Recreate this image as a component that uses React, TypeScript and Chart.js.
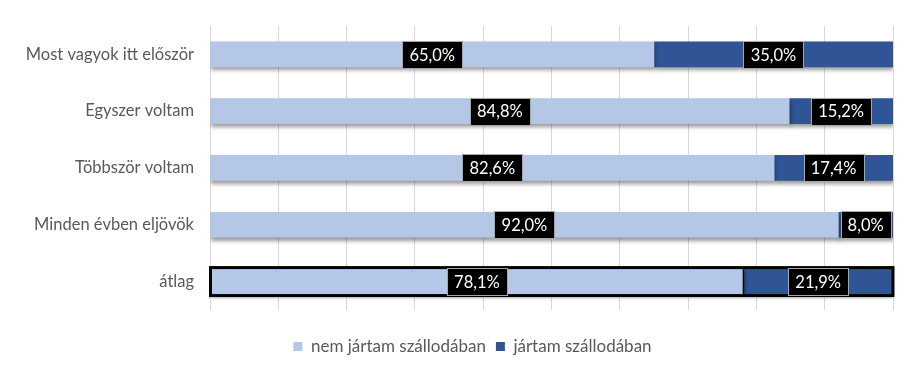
import React, { useEffect, useRef } from "react";
import { Chart, registerables } from "chart.js";

Chart.register(...registerables);

const categories = ["Most vagyok itt először", "Egyszer voltam", "Többször voltam", "Minden évben eljövök", "átlag"];
const seriesNames = ["nem jártam szállodában", "jártam szállodában"];
const notStayed = [65.0, 84.8, 82.6, 92.0, 78.1];
const stayed = [35.0, 15.2, 17.4, 8.0, 21.9];
const xTicks = [0, 10, 20, 30, 40, 50, 60, 70, 80, 90, 100];

const LIGHT = "#B4C7E7";
const DARK = "#2F5597";
const FONT = "Lato, 'Noto Sans', sans-serif";

const shadowPlugin = {
  id: "shadowPlugin",
  beforeDatasetsDraw(chart: any) {
    const ctx = chart.ctx;
    ctx.save();
    ctx.shadowColor = "rgba(0,0,0,0.4)";
    ctx.shadowBlur = 4;
    ctx.shadowOffsetX = 1;
    ctx.shadowOffsetY = 3;
  },
  afterDatasetsDraw(chart: any) {
    chart.ctx.restore();
  },
};

const legendShift = {
  id: "legendShift",
  afterLayout(chart: any) {
    const lg = chart.legend;
    if (lg) {
      lg.left += 26;
      lg.right += 26;
      if (lg.legendHitBoxes) lg.legendHitBoxes.forEach((h: any) => (h.left += 26));
    }
  },
};

const overlayPlugin = {
  id: "overlayPlugin",
  afterDatasetsDraw(chart: any) {
    const ctx = chart.ctx;
    const m0 = chart.getDatasetMeta(0);
    const m1 = chart.getDatasetMeta(1);
    const last = categories.length - 1;
    const a: any = m0.data[last];
    const b: any = m1.data[last];
    if (a && b) {
      const h = a.height;
      const left = a.base;
      const right = b.x;
      ctx.save();
      ctx.strokeStyle = "#000";
      ctx.lineWidth = 3;
      ctx.strokeRect(left, a.y - h / 2 - 1.5, right - left, h + 3);
      ctx.beginPath();
      ctx.lineWidth = 1.5;
      ctx.moveTo(a.x, a.y - h / 2);
      ctx.lineTo(a.x, a.y + h / 2);
      ctx.stroke();
      ctx.restore();
    }
    ctx.save();
    ctx.font = `16.5px ${FONT}`;
    ctx.textAlign = "center";
    ctx.textBaseline = "middle";
    [m0, m1].forEach((meta: any, di: number) => {
      const values = di === 0 ? notStayed : stayed;
      meta.data.forEach((el: any, i: number) => {
        const txt = values[i].toFixed(1).replace(".", ",") + "%";
        const cx = (el.x + el.base) / 2;
        const cy = el.y;
        const w = Math.round(ctx.measureText(txt).width + 14);
        const hh = 27;
        const x0 = Math.round(cx - w / 2);
        const y0 = Math.round(cy - hh / 2);
        ctx.fillStyle = "#000";
        ctx.fillRect(x0, y0, w, hh);
        ctx.strokeStyle = "#A6A6A6";
        ctx.lineWidth = 1;
        ctx.strokeRect(x0 + 0.5, y0 + 0.5, w, hh);
        ctx.fillStyle = "#fff";
        ctx.fillText(txt, cx, cy + 1);
      });
    });
    ctx.restore();
  },
};

export default function App() {
  const ref = useRef<HTMLCanvasElement | null>(null);
  useEffect(() => {
    document.body.style.margin = "0";
    const chart = new Chart(ref.current as HTMLCanvasElement, {
      type: "bar",
      data: {
        labels: categories,
        datasets: [
          { label: seriesNames[0], data: notStayed, backgroundColor: LIGHT, borderWidth: 0, barThickness: 25 } as any,
          { label: seriesNames[1], data: stayed, backgroundColor: DARK, borderWidth: 0, barThickness: 25 } as any,
        ],
      },
      options: {
        indexAxis: "y",
        animation: false,
        responsive: false,
        layout: { padding: { left: 0, right: 27, top: 6, bottom: 3 } },
        scales: {
          x: {
            stacked: true,
            min: 0,
            max: 100,
            afterBuildTicks(scale: any) {
              scale.ticks = xTicks.map((v) => ({ value: v }));
            },
            ticks: { display: false },
            grid: { color: "#D9D9D9", drawTicks: false, lineWidth: 1 },
            border: { display: false },
            afterFit(scale: any) {
              scale.height = 18;
            },
          },
          y: {
            stacked: true,
            grid: { display: false, drawTicks: false },
            border: { display: false },
            ticks: { color: "#595959", font: { family: FONT, size: 16.5 }, padding: 16 },
            afterFit(scale: any) {
              scale.width = 210;
            },
          },
        },
        plugins: {
          legend: {
            position: "bottom",
            labels: {
              color: "#595959",
              font: { family: FONT, size: 17 },
              boxWidth: 9,
              boxHeight: 9,
              padding: 10,
            },
          },
          tooltip: { enabled: false },
        },
      },
      plugins: [shadowPlugin, overlayPlugin, legendShift],
    });
    return () => chart.destroy();
  }, []);
  return <canvas ref={ref} width={920} height={368} style={{ display: "block" }} />;
}
